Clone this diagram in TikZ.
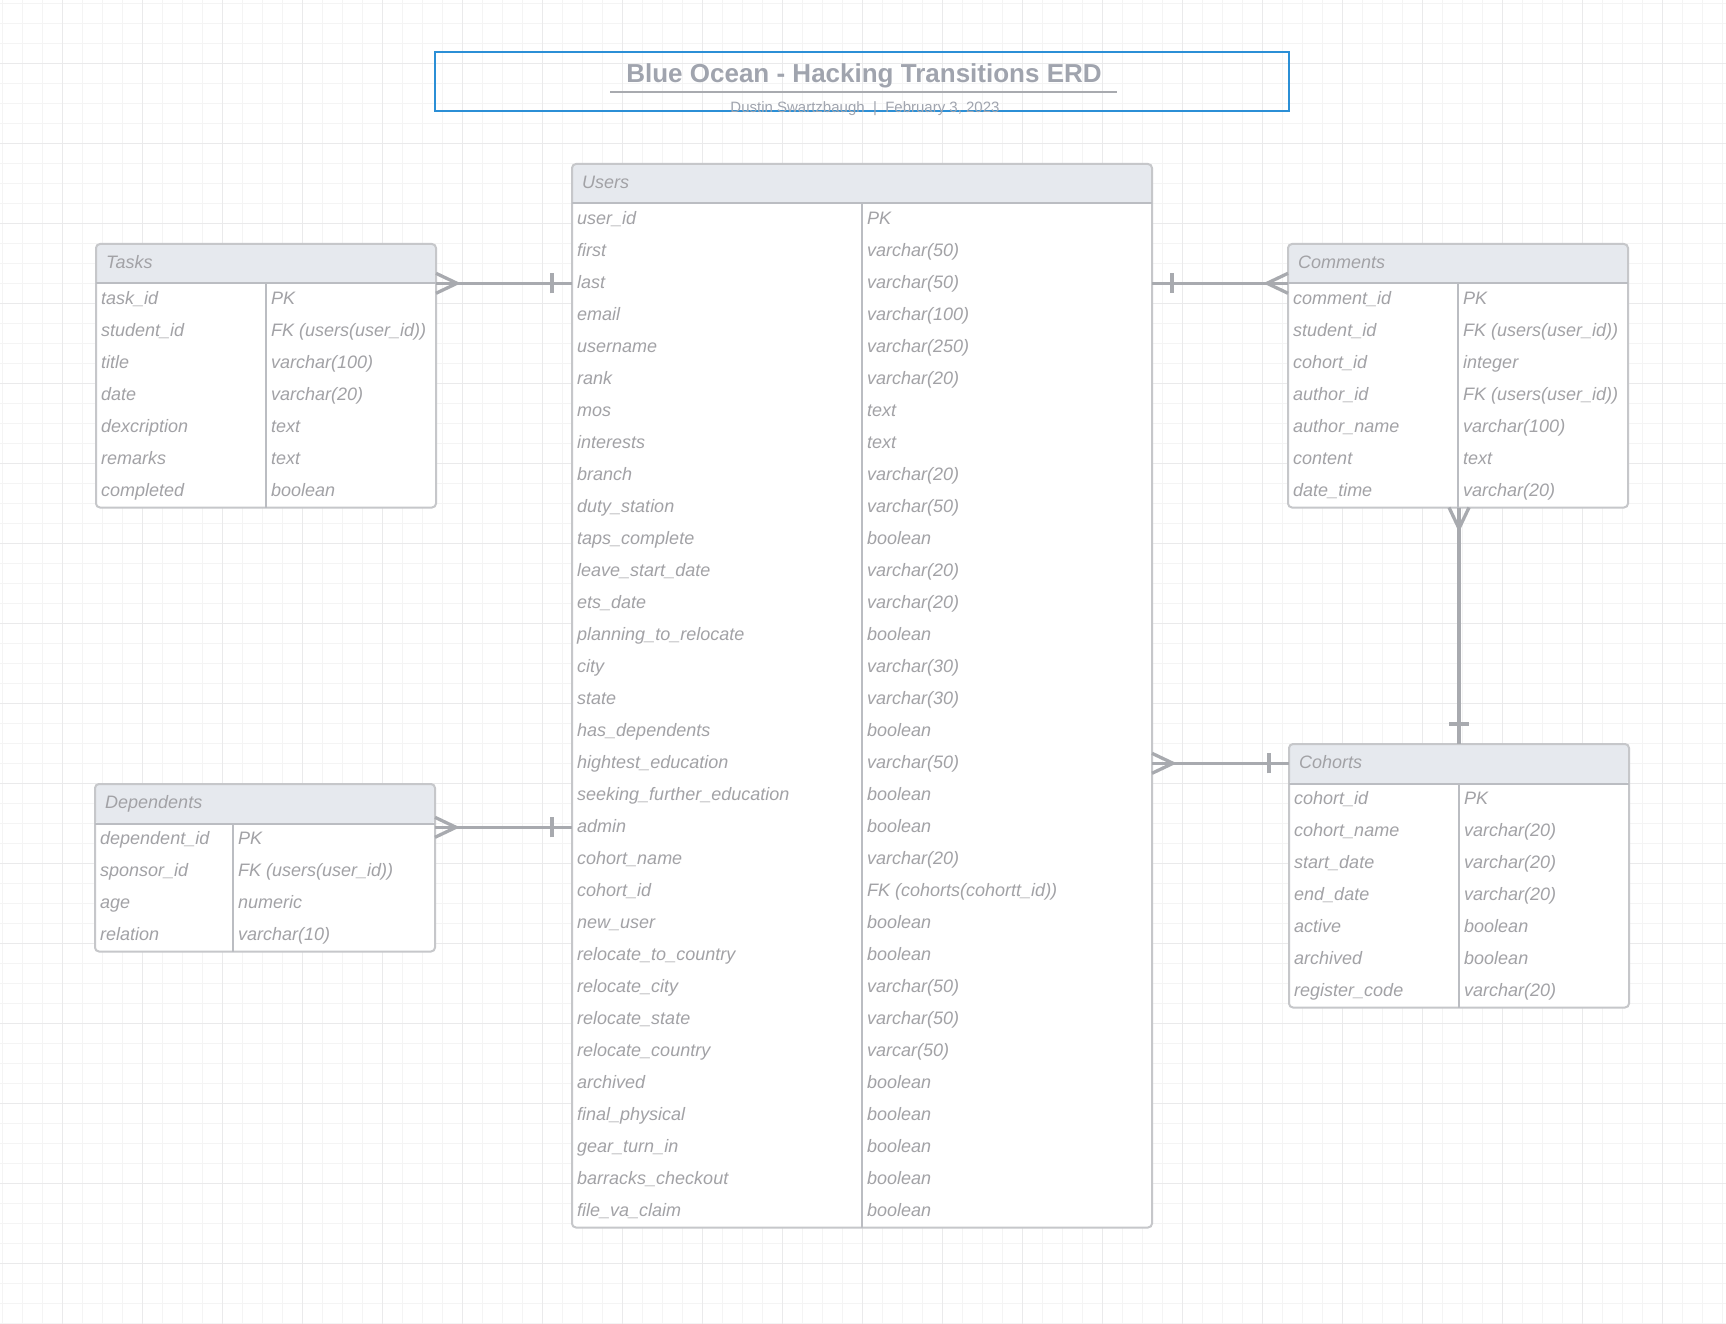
\documentclass[tikz,border=0pt]{standalone}
\usepackage{fontspec}
\setmainfont{Liberation Sans}
\definecolor{cgridminor}{HTML}{F4F4F4}
\definecolor{cgridmajor}{HTML}{EAEAEB}
\definecolor{cborder}{HTML}{C6C7CA}
\definecolor{chead}{HTML}{E6E9EE}
\definecolor{crule}{HTML}{BBBDC2}
\definecolor{ctext}{HTML}{A2A2A6}
\definecolor{crel}{HTML}{A8AAAF}
\definecolor{cblue}{HTML}{2B8FD6}
\definecolor{ctitle}{HTML}{A0A4AE}
\tikzset{
  every picture/.style={font=\itshape\fontsize{18}{22}\selectfont},
  gridminor/.style={draw=cgridminor, line width=1pt},
  gridmajor/.style={draw=cgridmajor, line width=1.2pt},
  erdframe/.style={draw=cborder, line width=2pt, fill=white, rounded corners=4pt, inner sep=0pt, outer sep=0pt, anchor=north west,
    path picture={\fill[chead] (path picture bounding box.north west) rectangle ([yshift=-39.5pt]path picture bounding box.north east);}},
  erdtext/.style={text=ctext, inner sep=0pt, anchor=base west},
  rel/.style={draw=crel, line width=3.3pt},
  crowmany/.pic={\draw[rel] (0,-10) -- (21,0) -- (0,10);},
  crowone/.pic={\draw[rel] (20,-10) -- (20,10);},
  titletext/.style={text=ctitle, font=\bfseries\fontsize{26}{30}\selectfont, inner sep=0pt, anchor=base},
  subtext/.style={text=ctitle, font=\fontsize{15}{18}\selectfont, inner sep=0pt, anchor=base},
}
% table: name, x, y, width, divider, rows, title, fields
\newcommand{\erdtable}[8]{%
  \node[erdframe, minimum width=#4, minimum height={39.5+32*#6}] (#1) at (#2,#3) {};
  \draw[draw=crule, line width=2pt] ([shift={(0,39.5)}]#1.north west) -- ([shift={(0,39.5)}]#1.north east);
  \draw[draw=crule, line width=1.5pt] ([shift={(#5,39.5)}]#1.north west) -- ([shift={(#5,0)}]#1.south west);
  \node[erdtext] (#1-name) at ([shift={(10,24.5)}]#1.north west) {#7};
  \foreach \fld/\typ [count=\i] in {#8} {
    \node[erdtext] (#1-f\i) at ([shift={(5,{60.5+32*(\i-1)})}]#1.north west) {\fld};
    \node[erdtext] (#1-t\i) at ([shift={({#5+5},{60.5+32*(\i-1)})}]#1.north west) {\typ};
  }%
}

\begin{document}
\begin{tikzpicture}[x=1pt, y=-1pt]
  \useasboundingbox (0,0) rectangle (1726,1324);
  \fill[white] (0,0) rectangle (1726,1324);
  % background grid
  \foreach \gx in {2.7,22.7,...,1726} \draw[gridminor] (\gx,0) -- (\gx,1324);
  \foreach \gy in {3.3,23.3,...,1324} \draw[gridminor] (0,\gy) -- (1726,\gy);
  \foreach \gx in {62.7,142.7,...,1726} \draw[gridmajor] (\gx,0) -- (\gx,1324);
  \foreach \gy in {63.3,143.3,...,1324} \draw[gridmajor] (0,\gy) -- (1726,\gy);

  % title block
  \node[draw=cblue, line width=2pt, minimum width=854, minimum height=59, inner sep=0pt, outer sep=0pt, anchor=north west] (titlebox) at (435,52) {};
  \node[titletext] (title) at (864,82.7) {Blue Ocean - Hacking Transitions ERD};
  \draw[draw=crel, line width=2.6pt] (610,92) -- (1117,92);
  \node[subtext] (subtitle) at (865,112.5) {Dustin Swartzbaugh\ \ |\ \ February 3, 2023};

  % tables
  \erdtable{users}{572}{164}{580}{290}{32}{Users}{user\_id/PK, first/varchar(50), last/varchar(50), email/varchar(100), username/varchar(250), rank/varchar(20), mos/text, interests/text, branch/varchar(20), duty\_station/varchar(50), taps\_complete/boolean, leave\_start\_date/varchar(20), ets\_date/varchar(20), planning\_to\_relocate/boolean, city/varchar(30), state/varchar(30), has\_dependents/boolean, hightest\_education/varchar(50), seeking\_further\_education/boolean, admin/boolean, cohort\_name/varchar(20), cohort\_id/FK (cohorts(cohortt\_id)), new\_user/boolean, relocate\_to\_country/boolean, relocate\_city/varchar(50), relocate\_state/varchar(50), relocate\_country/varcar(50), archived/boolean, final\_physical/boolean, gear\_turn\_in/boolean, barracks\_checkout/boolean, file\_va\_claim/boolean}
  \erdtable{tasks}{96}{244}{340}{170}{7}{Tasks}{task\_id/PK, student\_id/FK (users(user\_id)), title/varchar(100), date/varchar(20), dexcription/text, remarks/text, completed/boolean}
  \erdtable{comments}{1288}{244}{340}{170}{7}{Comments}{comment\_id/PK, student\_id/FK (users(user\_id)), cohort\_id/integer, author\_id/FK (users(user\_id)), author\_name/varchar(100), content/text, date\_time/varchar(20)}
  \erdtable{deps}{95}{784}{340}{138}{4}{Dependents}{dependent\_id/PK, sponsor\_id/FK (users(user\_id)), age/numeric, relation/varchar(10)}
  \erdtable{cohorts}{1289}{744}{340}{170}{7}{Cohorts}{cohort\_id/PK, cohort\_name/varchar(20), start\_date/varchar(20), end\_date/varchar(20), active/boolean, archived/boolean, register\_code/varchar(20)}

  % relation ends
  \coordinate (tu-a) at ([shift={(0,39.3)}]tasks.north east);
  \coordinate (tu-b) at (users.west |- tu-a);
  \coordinate (cu-a) at ([shift={(0,39.3)}]comments.north west);
  \coordinate (cu-b) at (users.east |- cu-a);
  \coordinate (du-a) at ([shift={(0,43.3)}]deps.north east);
  \coordinate (du-b) at (users.west |- du-a);
  \coordinate (hu-a) at ([shift={(0,19.3)}]cohorts.north west);
  \coordinate (hu-b) at (users.east |- hu-a);
  \coordinate (ch-a) at ([shift={(171,0)}]comments.south west);
  \coordinate (ch-b) at (ch-a |- cohorts.north);

  % relations: crow foot = many, bar = one
  \draw[rel] (tu-a) -- (tu-b);
  \pic at (tu-a) {crowmany};
  \pic[rotate=180] at (tu-b) {crowone};
  \draw[rel] (cu-b) -- (cu-a);
  \pic[rotate=180] at (cu-a) {crowmany};
  \pic at (cu-b) {crowone};
  \draw[rel] (du-a) -- (du-b);
  \pic at (du-a) {crowmany};
  \pic[rotate=180] at (du-b) {crowone};
  \draw[rel] (hu-b) -- (hu-a);
  \pic at (hu-b) {crowmany};
  \pic[rotate=180] at (hu-a) {crowone};
  \draw[rel] (ch-a) -- (ch-b);
  \pic[rotate=-90] at (ch-a) {crowmany};
  \pic[rotate=90] at (ch-b) {crowone};
\end{tikzpicture}
\end{document}
